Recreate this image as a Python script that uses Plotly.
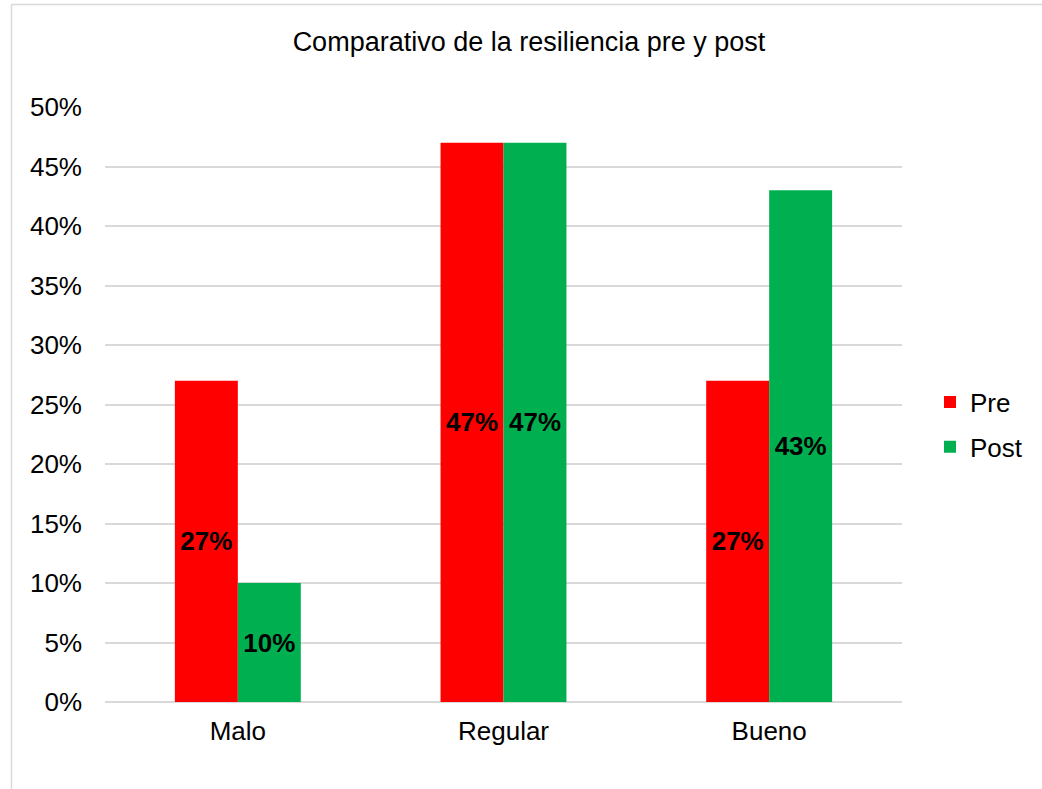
import plotly.graph_objects as go

categories = ["Malo", "Regular", "Bueno"]
pre_values = [27, 47, 27]
post_values = [10, 47, 43]
y_ticks = [0, 5, 10, 15, 20, 25, 30, 35, 40, 45, 50]
y_tick_labels = [f"{v}%" for v in y_ticks]

FONT = "Liberation Sans, Arial, sans-serif"
SIZE = 26

fig = go.Figure()
fig.add_trace(go.Bar(
    name="Pre", x=categories, y=pre_values, legendgroup="pre",
    marker=dict(color="#ff0000", line=dict(width=0)),
    text=[f"{v}%" for v in pre_values], textposition="inside",
    insidetextanchor="middle", textangle=0,
    textfont=dict(family=FONT, size=SIZE, color="black", weight="bold"),
))
fig.add_trace(go.Bar(
    name="Post", x=categories, y=post_values, legendgroup="post",
    marker=dict(color="#00b050", line=dict(width=0)),
    text=[f"{v}%" for v in post_values], textposition="inside",
    insidetextanchor="middle", textangle=0,
    textfont=dict(family=FONT, size=SIZE, color="black", weight="bold"),
))

# plot area geometry in pixels
L, R, T, B = 105, 140, 107, 87
W, H = 1042, 789
pw, ph = W - L - R, H - T - B

fig.update_layout(
    width=W, height=H,
    margin=dict(l=L, r=R, t=T, b=B, pad=0),
    paper_bgcolor="white", plot_bgcolor="white",
    barmode="group", bargap=0.526, bargroupgap=0,
    uniformtext=dict(mode=False),
    font=dict(family=FONT, size=SIZE, color="black"),
    title=dict(text="Comparativo de la resiliencia pre y post",
               x=529 / W, xanchor="center", y=1 - 42 / H, yanchor="middle",
               font=dict(family=FONT, size=27, color="black")),
    showlegend=True,
    legend=dict(x=(930 - L) / pw, xanchor="left",
                y=1 - (424.5 - T) / ph, yanchor="middle",
                font=dict(family=FONT, size=SIZE, color="black"),
                itemwidth=30, tracegroupgap=8, bgcolor="rgba(0,0,0,0)"),
    xaxis=dict(showline=False, showgrid=False, ticks="", ticklen=0,
               ticklabelstandoff=11,
               tickfont=dict(family=FONT, size=SIZE, color="black")),
    yaxis=dict(range=[0, 50], tickvals=y_ticks, ticktext=y_tick_labels,
               showgrid=True, gridcolor="#d9d9d9", gridwidth=1.5,
               zeroline=True, zerolinecolor="#d9d9d9", zerolinewidth=1.5,
               showline=False, ticks="", ticklabelstandoff=22,
               tickfont=dict(family=FONT, size=SIZE, color="black")),
    shapes=[
        dict(type="line", xref="paper", yref="paper",
             x0=(11.5 - L) / pw, x1=(W + 5 - L) / pw,
             y0=(H - B - 4.5) / ph, y1=(H - B - 4.5) / ph,
             line=dict(color="#d9d9d9", width=1.5)),
        dict(type="line", xref="paper", yref="paper",
             x0=(11.5 - L) / pw, x1=(11.5 - L) / pw,
             y0=(H - B - 4.5) / ph, y1=-(B + 5) / ph,
             line=dict(color="#d9d9d9", width=1.5)),
    ],
)

fig.write_html("out.html")
